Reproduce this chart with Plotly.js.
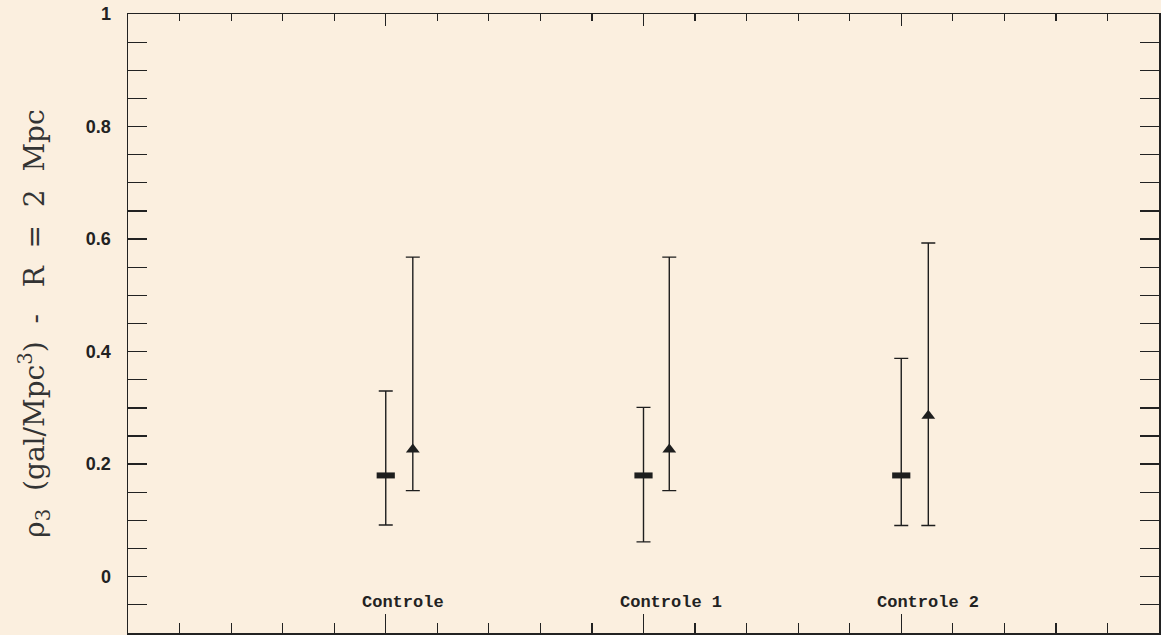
<!DOCTYPE html>
<html>
<head>
<meta charset="utf-8">
<script src="https://cdn.plot.ly/plotly-3.0.1.min.js"></script>
<style>html,body{margin:0;padding:0;background:#fbefdf;}</style>
</head>
<body>
<div id="chart" style="width:1161px;height:635px;"></div>
<script>
// Category labels and their positions
var groupLabels = ["Controle", "Controle 1", "Controle 2"];
var labelX = [0.9, 1.9, 2.9];

// Series A (squares)
var sqX = [1, 2, 3];
var sqY = [0.18, 0.18, 0.18];
var sqHigh = [0.330, 0.301, 0.388];
var sqLow = [0.092, 0.062, 0.091];

// Series B (triangles)
var trX = [1.105, 2.1, 3.105];
var trY = [0.226, 0.226, 0.286];
var trHigh = [0.568, 0.568, 0.593];
var trLow = [0.153, 0.153, 0.091];

function diff(a, b) { return a.map(function (v, i) { return v - b[i]; }); }

var ink = '#1e1e1e';

var traces = [
  {
    x: sqX, y: sqY, type: 'scatter', mode: 'markers',
    marker: { symbol: 'line-ew', size: 13, color: ink, line: { color: ink, width: 6 } },
    error_y: { type: 'data', symmetric: false, array: diff(sqHigh, sqY), arrayminus: diff(sqY, sqLow),
               color: ink, thickness: 1.4, width: 7 },
    showlegend: false, hoverinfo: 'x+y'
  },
  {
    x: trX, y: trY, type: 'scatter', mode: 'markers',
    marker: { symbol: 'triangle-up', size: 12, color: ink },
    error_y: { type: 'data', symmetric: false, array: diff(trHigh, trY), arrayminus: diff(trY, trLow),
               color: ink, thickness: 1.4, width: 7 },
    showlegend: false, hoverinfo: 'x+y'
  },
  {
    // carrier for the top axis (invisible)
    x: sqX, y: sqY, xaxis: 'x2', yaxis: 'y', type: 'scatter', mode: 'markers',
    marker: { opacity: 0, size: 1 }, showlegend: false, hoverinfo: 'skip'
  }
];

var annotations = groupLabels.map(function (t, i) {
  return {
    x: labelX[i], y: -0.045, xref: 'x', yref: 'y', text: t, showarrow: false,
    xanchor: 'left', yanchor: 'middle',
    font: { family: 'Liberation Mono, Courier New, monospace', size: 17, weight: 'bold', color: '#222' }
  };
});

var axisLine = { showline: true, linecolor: '#222', linewidth: 1.5, showgrid: false, zeroline: false };

var nb = '\u00A0';
var yTitle = 'ρ<sub>3</sub>' + nb + nb + '(gal/Mpc<sup>3</sup>)' + nb + nb + '-' + nb + nb + nb +
             'R' + nb + nb + '=' + nb + nb + '2' + nb + nb + 'Mpc' + nb + nb;

var layout = {
  width: 1161, height: 635,
  margin: { l: 128, r: 2, t: 14, b: 2 },
  paper_bgcolor: '#fbefdf', plot_bgcolor: '#fbefdf',
  xaxis: Object.assign({}, axisLine, {
    range: [0, 4], tickmode: 'linear', tick0: 0, dtick: 1,
    ticks: 'inside', ticklen: 19, tickwidth: 1.4, tickcolor: '#222',
    minor: { dtick: 0.2, tick0: 0, ticks: 'inside', ticklen: 10, tickwidth: 1.2, tickcolor: '#222' },
    showticklabels: false
  }),
  xaxis2: Object.assign({}, axisLine, {
    range: [0, 4], overlaying: 'x', side: 'top', anchor: 'y',
    tickmode: 'linear', tick0: 0, dtick: 1,
    ticks: 'inside', ticklen: 12, tickwidth: 1.4, tickcolor: '#222',
    minor: { dtick: 0.2, tick0: 0, ticks: 'inside', ticklen: 7, tickwidth: 1.2, tickcolor: '#222' },
    showticklabels: false
  }),
  yaxis: Object.assign({}, axisLine, {
    range: [-0.1, 1], tickmode: 'linear', tick0: 0, dtick: 0.2,
    ticks: 'inside', ticklen: 19, tickwidth: 1.4, tickcolor: '#222', mirror: 'allticks',
    minor: { dtick: 0.05, tick0: 0, ticks: 'inside', ticklen: 10, tickwidth: 1.2, tickcolor: '#222' },
    ticklabelstandoff: 12,
    tickfont: { family: 'Liberation Sans, Arial, sans-serif', size: 18, weight: 'bold', color: '#222' },
    title: {
      text: yTitle,
      font: { family: 'DejaVu Serif', size: 28, color: '#333' },
      standoff: 33
    }
  }),
  annotations: annotations
};

Plotly.newPlot('chart', traces, layout, { staticPlot: true, displayModeBar: false });
</script>
</body>
</html>
